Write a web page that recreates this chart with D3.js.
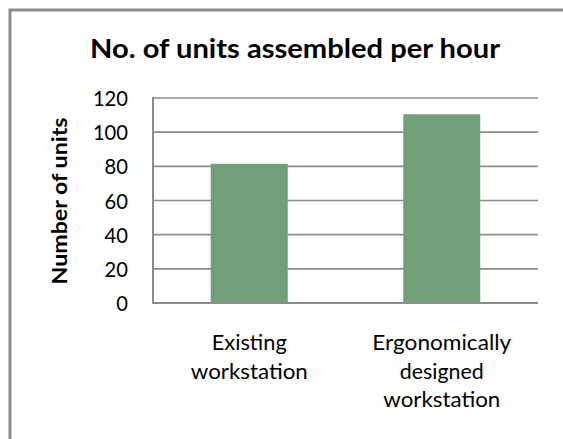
<!DOCTYPE html>
<html><head><meta charset="utf-8">
<script src="https://cdn.jsdelivr.net/npm/d3@7"></script>
<style>body{margin:0;background:#fff}svg{display:block}</style>
</head><body>
<svg id="c" width="563" height="439"></svg>
<script>
const categories = [["Existing","workstation"],["Ergonomically","designed","workstation"]];
const values = [81.5, 110.5];
const yTicks = [0,20,40,60,80,100,120];
const title = "No. of units assembled per hour";
const yTitle = "Number of units";

const svg = d3.select("#c");
const font = "Lato, 'Open Sans', sans-serif";
const m = {l:153, t:98, r:538, b:303};

// outer frame
svg.append("path").attr("d","M10,439 V10 H563").attr("fill","none").attr("stroke","#8c8c8c").attr("stroke-width",3);

const x = d3.scaleBand().domain(d3.range(categories.length)).range([m.l,m.r]).paddingInner(0.6).paddingOuter(0.3);
const y = d3.scaleLinear().domain([0,120]).range([m.b,m.t]);

// gridlines
svg.append("g").selectAll("line").data(yTicks.filter(d=>d>0)).join("line")
  .attr("x1",m.l).attr("x2",m.r).attr("y1",d=>y(d)).attr("y2",d=>y(d))
  .attr("stroke","#8c8c8c").attr("stroke-width",1.6);

// bars
svg.append("g").selectAll("rect").data(values).join("rect")
  .attr("x",(d,i)=>x(i)).attr("width",x.bandwidth())
  .attr("y",d=>y(d)).attr("height",d=>y(0)-y(d))
  .attr("fill","#71a078");

// axes lines
svg.append("line").attr("x1",m.l).attr("x2",m.l).attr("y1",m.t-1).attr("y2",m.b+1).attr("stroke","#8c8c8c").attr("stroke-width",2);
svg.append("line").attr("x1",m.l-1).attr("x2",m.r).attr("y1",m.b).attr("y2",m.b).attr("stroke","#8c8c8c").attr("stroke-width",2);

// y tick labels
svg.append("g").selectAll("text").data(yTicks).join("text")
  .attr("x",128).attr("y",d=>y(d)).attr("dy","0.37em").attr("text-anchor","end")
  .attr("font-family",font).attr("font-size",22).attr("fill","#000")
  .attr("textLength",d=>String(d).length*11.7).attr("lengthAdjust","spacingAndGlyphs").text(d=>d);

// category labels
const widths = {"Existing":75,"workstation":117,"Ergonomically":139,"designed":84};
const cg = svg.append("g");
categories.forEach((lines,i)=>{
  lines.forEach((ln,j)=>{
    cg.append("text").attr("text-anchor","middle").attr("font-family",font).attr("font-size",22).attr("fill","#000")
      .attr("x",x(i)+x.bandwidth()/2).attr("y",350+j*28.5)
      .attr("textLength",widths[ln]).attr("lengthAdjust","spacingAndGlyphs").text(ln);
  });
});

// title
svg.append("text").attr("x",295).attr("y",58).attr("text-anchor","middle")
  .attr("font-family",font).attr("font-weight","bold").attr("font-size",27).attr("fill","#000")
  .attr("textLength",410).attr("lengthAdjust","spacingAndGlyphs").text(title);

// y title
svg.append("text").attr("transform","translate(67,201) rotate(-90)").attr("text-anchor","middle")
  .attr("font-family",font).attr("font-weight","bold").attr("font-size",21.5).attr("fill","#000")
  .attr("textLength",167).attr("lengthAdjust","spacingAndGlyphs").text(yTitle);
</script>
</body></html>
